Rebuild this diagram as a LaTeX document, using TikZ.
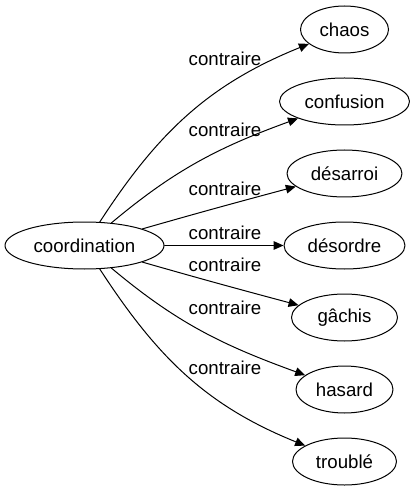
\documentclass[tikz,border=0pt]{standalone}
\usepackage{fontspec}
\setmainfont{Liberation Sans}
\usetikzlibrary{arrows.meta,shapes.geometric}

\tikzset{
  mot/.style={draw,ellipse,line width=0.75pt,inner sep=0pt,minimum height=35.25pt,font=\fontsize{14}{16}\selectfont},
  lien/.style={line width=0.75pt,-{Triangle[length=7.5pt,width=6.5pt]}},
  etiq/.style={inner sep=0pt,font=\fontsize{14}{16}\selectfont},
}

\begin{document}
\begin{tikzpicture}[line cap=round,line join=round,x=0.75pt,y=-0.75pt]
	\useasboundingbox (0,0) rectangle (416,491);
	\node[mot,minimum width=119.25pt] (coordination) at (84.5,245.5) {coordination};
	\node[mot,minimum width=66pt] (chaos) at (344.5,29.5) {chaos};
	\node[mot,minimum width=97.5pt] (confusion) at (344.5,101.5) {confusion};
	\node[mot,minimum width=86.25pt] (desarroi) at (344.5,173.5) {désarroi};
	\node[mot,minimum width=90.75pt] (desordre) at (344.5,245.5) {désordre};
	\node[mot,minimum width=79.5pt] (gachis) at (344.5,317.5) {gâchis};
	\node[mot,minimum width=72.75pt] (hasard) at (344.5,389.5) {hasard};
	\node[mot,minimum width=78pt] (trouble) at (344.5,461.5) {troublé};
	\draw [lien] (coordination) to[out=57,in=202] (chaos);
	\draw [lien] (coordination) to[out=40,in=200] (confusion);
	\draw [lien] (coordination) to[out=16,in=195] (desarroi);
	\draw [lien] (coordination) -- (desordre);
	\draw [lien] (coordination) to[out=-16,in=165] (gachis);
	\draw [lien] (coordination) to[out=-40,in=160] (hasard);
	\draw [lien] (coordination) to[out=-57,in=158] (trouble);
	\node[etiq] (c1) at (225,59) {contraire};
	\node[etiq] (c2) at (225,130) {contraire};
	\node[etiq] (c3) at (225,189) {contraire};
	\node[etiq] (c4) at (225,233) {contraire};
	\node[etiq] (c5) at (225,265) {contraire};
	\node[etiq] (c6) at (225,308) {contraire};
	\node[etiq] (c7) at (225,368) {contraire};
\end{tikzpicture}
\end{document}
